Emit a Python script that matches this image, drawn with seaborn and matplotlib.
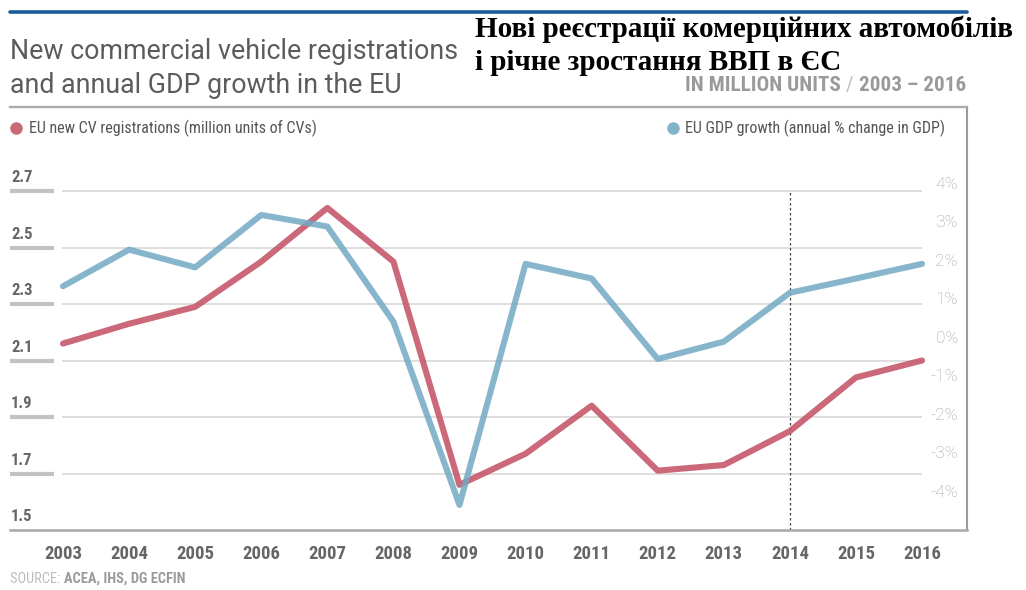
import matplotlib
matplotlib.use("Agg")
import matplotlib.pyplot as plt
from matplotlib import font_manager
from matplotlib.lines import Line2D
import seaborn as sns
import pandas as pd

# ---- data -------------------------------------------------------------
years = list(range(2003, 2017))
cv_registrations = [2.16, 2.23, 2.29, 2.45, 2.64, 2.45, 1.66, 1.77, 1.94, 1.71, 1.73, 1.85, 2.04, 2.10]
gdp_growth = [1.35, 2.30, 1.84, 3.20, 2.90, 0.43, -4.33, 1.93, 1.55, -0.54, -0.09, 1.18, 1.55, 1.93]
left_ticks = [1.5, 1.7, 1.9, 2.1, 2.3, 2.5, 2.7]
left_labels = ["1.5", "1.7", "1.9", "2.1", "2.3", "2.5", "2.7"]
right_ticks = [-4, -3, -2, -1, 0, 1, 2, 3, 4]
right_labels = ["-4%", "-3%", "-2%", "-1%", "0%", "1%", "2%", "3%", "4%"]
forecast_start = 2014

# ---- style ------------------------------------------------------------
sns.set_theme(style="white")
names = {f.name for f in font_manager.fontManager.ttflist}
COND = "Roboto Condensed" if "Roboto Condensed" in names else "Roboto"
plt.rcParams["font.family"] = ["Roboto", "DejaVu Sans"]

RED = "#c6586a"
BLUE = "#72aac4"
W, H = 1026, 590


def fx(px):
    return px / W


def fy(py):
    return 1 - py / H


def xdata(px):
    # year coordinate for a horizontal pixel position
    return 2003 + (px - 63) / 66.08


df = pd.DataFrame({"year": years, "cv": cv_registrations, "gdp": gdp_growth})

fig = plt.figure(figsize=(W / 100, H / 100), dpi=100)
ax = fig.add_axes([fx(10), fy(530), 957 / W, 423 / H])
ax2 = ax.twinx()

ax.set_xlim(xdata(10), xdata(967))
ax.set_ylim(1.5, 1.5 + 423 / 282.5)
ax2.set_ylim((338.2 - 530) / 38.51, (338.2 - 107) / 38.51)

# grid and label bars
ax.hlines(left_ticks[1:], xdata(62), 2016, color="#d4d4d4", lw=1.1, zorder=1)
ax.hlines(left_ticks[1:], xdata(10), xdata(54), color="#c2c2c2", lw=3, zorder=1)
for t, lab in zip(left_ticks, left_labels):
    ax.annotate(lab, (xdata(11), t), xytext=(0, 4), textcoords="offset points",
                ha="left", va="bottom", fontsize=12, fontweight="bold",
                color="#666666", family=[COND, "Roboto"])

ax.vlines(forecast_start, 1.5, 2.7, colors="#444444", linestyles=(0, (2, 2)), lw=0.9, zorder=2)

sns.lineplot(data=df, x="year", y="cv", ax=ax, color=RED, lw=4.4, alpha=0.9,
             legend=False, solid_capstyle="round", zorder=3)
sns.lineplot(data=df, x="year", y="gdp", ax=ax2, color=BLUE, lw=4.4, alpha=0.85,
             legend=False, solid_capstyle="round", zorder=3)

for t, lab in zip(right_ticks, right_labels):
    ax2.text((958 - 10) / 957, t, lab, transform=ax2.get_yaxis_transform(),
             ha="right", va="center", fontsize=12.5, color="#a3a3a3",
             fontweight="light", family=["Roboto"])

ax.set_yticks([])
ax2.set_yticks([])
ax.set_ylabel("")
ax2.set_ylabel("")
ax.set_xlabel("")
ax.set_xticks(years)
ax.set_xticklabels([str(y) for y in years], fontsize=13.5, fontweight="bold",
                   color="#666666", family=[COND, "Roboto"])
ax.tick_params(axis="x", length=0, pad=11)

for s in ax2.spines.values():
    s.set_visible(False)
ax.spines["left"].set_visible(False)
ax.spines["top"].set_color("#ababab")
ax.spines["top"].set_linewidth(1.7)
ax.spines["right"].set_color("#9a9a9a")
ax.spines["right"].set_linewidth(1.5)
ax.spines["bottom"].set_color("#a8a8a8")
ax.spines["bottom"].set_linewidth(1.8)

# ---- header -----------------------------------------------------------
fig.add_artist(Line2D([fx(10), fx(967)], [fy(12), fy(12)], color="#1d5b9b", lw=2.6,
                      transform=fig.transFigure))
fig.text(fx(10), fy(59), "New commercial vehicle registrations", fontsize=19.3,
         fontweight="normal", color="#5c5c5c", va="baseline")
fig.text(fx(10), fy(93), "and annual GDP growth in the EU", fontsize=19.3,
         fontweight="normal", color="#5c5c5c", va="baseline")
fig.text(fx(475), fy(37), "Нові реєстрації комерційних автомобілів", fontsize=21,
         fontweight="bold", color="black", va="baseline", family=["Liberation Serif"])
fig.text(fx(475), fy(70), "і річне зростання ВВП в ЄС", fontsize=21,
         fontweight="bold", color="black", va="baseline", family=["Liberation Serif"])

renderer = fig.canvas.get_renderer()
x_right = fx(966)
for part, col, wt in [("2003 – 2016", "#9a9a9a", "bold"), (" / ", "#c0c0c0", "normal"),
                      ("IN MILLION UNITS", "#9a9a9a", "bold")]:
    t = fig.text(x_right, fy(85), part, fontsize=15.2, fontweight=wt, color=col,
                 ha="right", va="center", family=[COND, "Roboto"])
    bb = t.get_window_extent(renderer)
    x_right = bb.x0 / fig.bbox.width

# ---- legend -----------------------------------------------------------
fig.add_artist(Line2D([fx(16)], [fy(128)], marker="o", ms=8, color="#c96a78", lw=0,
                      transform=fig.transFigure))
fig.text(fx(29), fy(128), "EU new CV registrations (million units of CVs)", fontsize=11.5,
         color="#555555", va="center", family=[COND, "Roboto"])
fig.add_artist(Line2D([fx(673)], [fy(128)], marker="o", ms=8, color="#82b4c9", lw=0,
                      transform=fig.transFigure))
fig.text(fx(685), fy(128), "EU GDP growth (annual % change in GDP)", fontsize=11.5,
         color="#555555", va="center", family=[COND, "Roboto"])

# ---- source -----------------------------------------------------------
t = fig.text(fx(10), fy(579), "SOURCE: ", fontsize=10.4, color="#bdbdbd", va="center",
             family=[COND, "Roboto"])
bb = t.get_window_extent(renderer)
fig.text(bb.x1 / fig.bbox.width, fy(579), "ACEA, IHS, DG ECFIN", fontsize=10.4,
         fontweight="bold", color="#9a9a9a", va="center", family=[COND, "Roboto"])

fig.savefig("out.png", dpi=100)
